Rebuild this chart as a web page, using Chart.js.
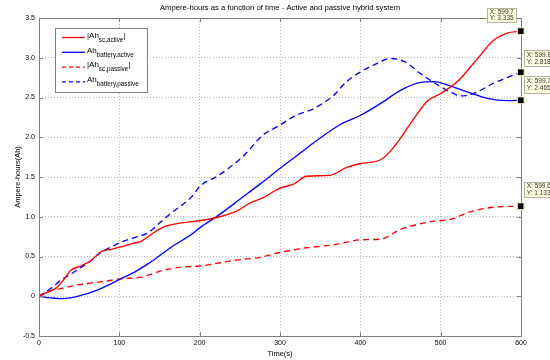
<!DOCTYPE html>
<html>
<head>
<meta charset="utf-8">
<script src="https://cdn.jsdelivr.net/npm/chart.js@4.4.0/dist/chart.umd.min.js"></script>
<style>
  html, body { margin: 0; padding: 0; background: #fff; }
</style>
</head>
<body>
<canvas id="c" width="550" height="360"></canvas>
<script>
// --- data ---
const tScActive = [0, 10, 21, 30, 40, 52, 65, 77, 90, 102, 115, 127, 140, 156, 175, 200, 225, 246, 262, 279, 300, 317, 333, 362, 383, 401, 426, 442, 463, 483, 500, 521, 541, 566, 583, 599.7];
const ahScActive = [0, 0.05, 0.10, 0.20, 0.33, 0.38, 0.45, 0.56, 0.59, 0.62, 0.66, 0.69, 0.78, 0.875, 0.92, 0.95, 1.00, 1.07, 1.17, 1.24, 1.36, 1.41, 1.51, 1.52, 1.62, 1.67, 1.72, 1.88, 2.18, 2.45, 2.55, 2.70, 2.93, 3.22, 3.31, 3.335];

const tBatActive = [0, 15, 27, 40, 52, 65, 77, 90, 102, 120, 136, 150, 165, 190, 200, 225, 250, 275, 299, 325, 350, 375, 401, 426, 450, 475, 492, 508, 533, 558, 583, 599.7];
const ahBatActive = [0, -0.02, -0.03, -0.02, 0.01, 0.05, 0.096, 0.16, 0.22, 0.31, 0.41, 0.51, 0.62, 0.78, 0.86, 1.03, 1.22, 1.41, 1.60, 1.80, 1.99, 2.16, 2.28, 2.43, 2.59, 2.69, 2.70, 2.66, 2.57, 2.49, 2.46, 2.465];

const tScPassive = [0, 15, 27, 52, 77, 102, 127, 156, 181, 200, 242, 275, 300, 333, 362, 383, 400, 426, 450, 483, 517, 533, 566, 599.6];
const ahScPassive = [0, 0.07, 0.096, 0.15, 0.18, 0.22, 0.24, 0.33, 0.37, 0.38, 0.45, 0.49, 0.55, 0.61, 0.64, 0.68, 0.71, 0.72, 0.84, 0.93, 0.98, 1.05, 1.12, 1.133];

const tBatPassive = [0, 15, 27, 40, 52, 65, 77, 90, 102, 120, 136, 150, 165, 190, 200, 225, 254, 279, 296, 321, 342, 367, 383, 400, 417, 438, 455, 475, 496, 512, 525, 541, 566, 599.8];
const ahBatPassive = [0, 0.10, 0.20, 0.28, 0.36, 0.45, 0.55, 0.62, 0.68, 0.74, 0.80, 0.92, 1.05, 1.25, 1.38, 1.53, 1.76, 2.03, 2.13, 2.28, 2.36, 2.53, 2.70, 2.82, 2.91, 2.99, 2.95, 2.80, 2.66, 2.57, 2.52, 2.55, 2.68, 2.818];

// legend text: main part, subscript, closing part
const legendMain = ['|Ah', 'Ah', '|Ah', 'Ah'];
const legendSub = ['sc,active', 'battery,active', 'sc,passive', 'battery,passive'];
const legendEnd = ['|', '', '|', ''];

const titleText = 'Ampere-hours as a function of time - Active and passive hybrid system';
const xTitle = 'Time(s)';
const yTitle = 'Ampere-hours(Ah)';

const FONT = '"Liberation Sans", Arial, Helvetica, sans-serif';

function pts(xs, ys) {
    return xs.map((x, i) => ({ x: x, y: ys[i] }));
}

// order matches the legend
const series = [
    { data: pts(tScActive, ahScActive), color: '#ff0000', dash: [] },
    { data: pts(tBatActive, ahBatActive), color: '#0000ff', dash: [] },
    { data: pts(tScPassive, ahScPassive), color: '#ff0000', dash: [6, 4] },
    { data: pts(tBatPassive, ahBatPassive), color: '#0000ff', dash: [6, 4] }
];

// where each datatip box sits relative to its point (dx, dy, w, h)
const tipBoxes = [
    [-34, -23, 29, 14],   // sc active
    [3, -24, 30, 17],     // battery active
    [3, -24, 30, 15],     // sc passive
    [3, -22, 30, 16]      // battery passive
];

// title over the axes, box, inward ticks, legend and datatips, MATLAB style
const matlabPlugin = {
    id: 'matlabBits',
    afterDatasetsDraw(chart) {
        const ctx = chart.ctx;
        const a = chart.chartArea;
        const xs = chart.scales.x, ys = chart.scales.y;
        ctx.save();

        // title, centred on the axes
        ctx.fillStyle = '#000';
        ctx.font = '7.7px ' + FONT;
        ctx.textAlign = 'center';
        ctx.textBaseline = 'middle';
        ctx.fillText(titleText, (a.left + a.right) / 2, 8);
        ctx.textAlign = 'left';

        // axes box
        ctx.strokeStyle = '#808080';
        ctx.lineWidth = 1;
        ctx.setLineDash([]);
        ctx.strokeRect(Math.round(a.left) + 0.5, Math.round(a.top) + 0.5,
            Math.round(a.right - a.left), Math.round(a.bottom - a.top));

        // inward ticks on all four sides
        ctx.beginPath();
        xs.ticks.forEach(t => {
            const px = Math.round(xs.getPixelForValue(t.value)) + 0.5;
            ctx.moveTo(px, a.bottom); ctx.lineTo(px, a.bottom - 4);
            ctx.moveTo(px, a.top); ctx.lineTo(px, a.top + 4);
        });
        ys.ticks.forEach(t => {
            const py = Math.round(ys.getPixelForValue(t.value)) + 0.5;
            ctx.moveTo(a.left, py); ctx.lineTo(a.left + 4, py);
            ctx.moveTo(a.right, py); ctx.lineTo(a.right - 4, py);
        });
        ctx.stroke();

        // legend
        const lx = 55, ly = 28, lw = 92, lh = 64;
        ctx.fillStyle = '#fff';
        ctx.fillRect(lx, ly, lw, lh);
        ctx.strokeStyle = '#808080';
        ctx.strokeRect(lx + 0.5, ly + 0.5, lw, lh);
        series.forEach((s, i) => {
            const y = 37.5 + i * 14.8;
            ctx.strokeStyle = s.color;
            ctx.lineWidth = 1.3;
            ctx.setLineDash(s.dash.length ? [4, 3] : []);
            ctx.beginPath();
            ctx.moveTo(62, y); ctx.lineTo(85, y);
            ctx.stroke();
            ctx.setLineDash([]);
            ctx.fillStyle = '#000';
            ctx.textBaseline = 'middle';
            let x = 87;
            ctx.font = '8px ' + FONT;
            ctx.fillText(legendMain[i], x, y - 2);
            x += ctx.measureText(legendMain[i]).width;
            ctx.font = '6.3px ' + FONT;
            ctx.fillText(legendSub[i], x, y + 2.5);
            x += ctx.measureText(legendSub[i]).width;
            ctx.font = '8px ' + FONT;
            ctx.fillText(legendEnd[i], x, y - 2);
        });

        // datatips on the last point of each line
        series.forEach((s, i) => {
            const meta = chart.getDatasetMeta(i);
            const el = meta.data[meta.data.length - 1];
            const last = s.data[s.data.length - 1];
            const b = tipBoxes[i];
            const bx = el.x + b[0], by = el.y + b[1];
            ctx.fillStyle = '#ffffe1';
            ctx.fillRect(bx, by, b[2], b[3]);
            ctx.strokeStyle = '#b4b4a0';
            ctx.lineWidth = 1;
            ctx.strokeRect(Math.round(bx) + 0.5, Math.round(by) + 0.5, b[2], b[3]);
            ctx.fillStyle = '#333';
            ctx.font = '6.5px ' + FONT;
            ctx.textBaseline = 'middle';
            ctx.fillText('X: ' + last.x, bx + 3, by + b[3] * 0.3);
            ctx.fillText('Y: ' + last.y, bx + 3, by + b[3] * 0.72);
            // marker
            ctx.fillStyle = '#000';
            ctx.fillRect(el.x - 3, el.y - 3, 6, 6);
            ctx.strokeStyle = '#e8e8b0';
            ctx.strokeRect(el.x - 3.5, el.y - 3.5, 7, 7);
        });

        ctx.restore();
    }
};

const gridStyle = {
    color: '#b8b8b8',
    lineWidth: 1,
    drawTicks: false
};

const ctx = document.getElementById('c').getContext('2d');
new Chart(ctx, {
    type: 'line',
    data: {
        datasets: series.map((s, i) => ({
            label: legendMain[i] + legendSub[i] + legendEnd[i],
            data: s.data,
            borderColor: s.color,
            backgroundColor: s.color,
            borderWidth: 1.35,
            borderDash: s.dash,
            pointRadius: 0,
            cubicInterpolationMode: 'monotone',
            fill: false
        }))
    },
    options: {
        responsive: false,
        animation: false,
        devicePixelRatio: 1,
        layout: { padding: { left: 0, right: 29, top: 18, bottom: 0 } },
        plugins: {
            legend: { display: false },
            tooltip: { enabled: false },
            title: { display: false }
        },
        scales: {
            x: {
                type: 'linear',
                min: 0, max: 600,
                ticks: { stepSize: 100, color: '#000', padding: 3, maxRotation: 0,
                    font: { family: FONT, size: 7 } },
                grid: gridStyle,
                border: { display: false, dash: [1, 2] },
                title: { display: true, text: xTitle, color: '#000',
                    font: { family: FONT, size: 7.5, lineHeight: 1.2 }, padding: { top: 0, bottom: 1.5 } },
                afterFit(scale) { scale.height = 24; }
            },
            y: {
                min: -0.5, max: 3.5,
                ticks: { stepSize: 0.5, color: '#000', padding: 4,
                    font: { family: FONT, size: 7 } },
                grid: gridStyle,
                border: { display: false, dash: [1, 2] },
                title: { display: true, text: yTitle, color: '#000',
                    font: { family: FONT, size: 7.5, lineHeight: 1.2 }, padding: { top: 13, bottom: 0 } },
                afterFit(scale) { scale.width = 39; }
            }
        }
    },
    plugins: [matlabPlugin]
});
</script>
</body>
</html>
